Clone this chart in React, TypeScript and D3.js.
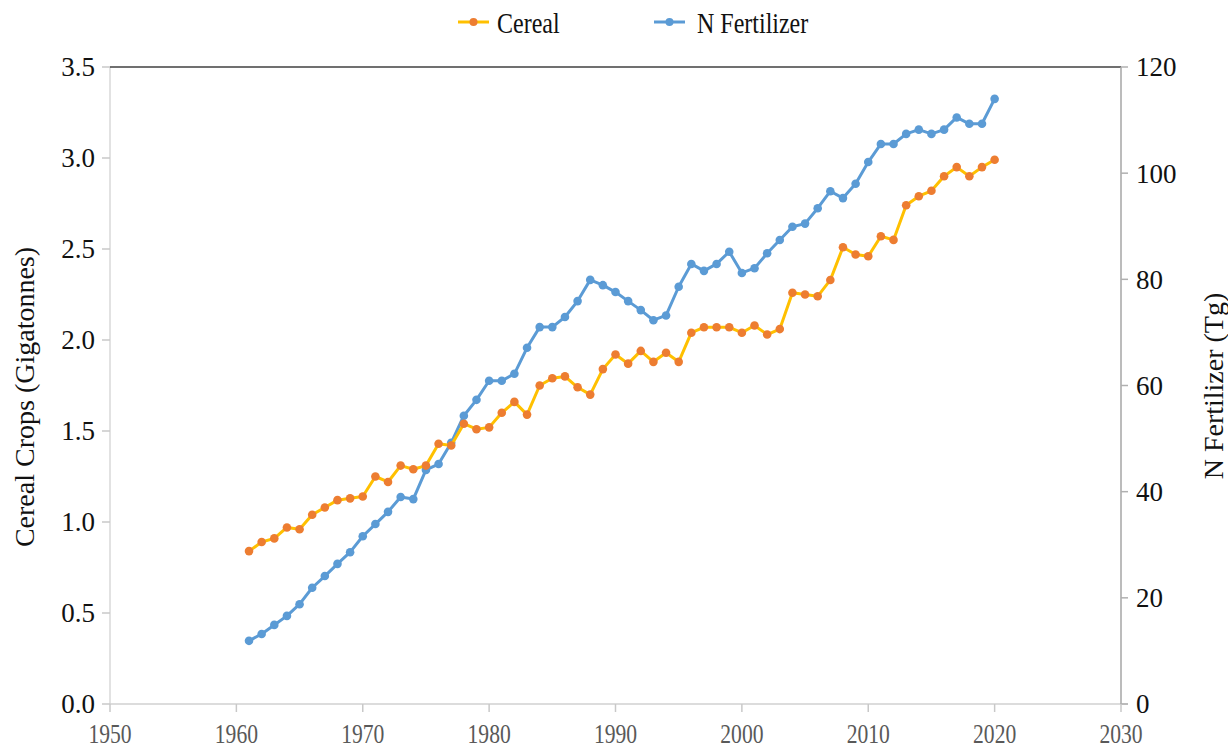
import React from 'react';
import * as d3 from 'd3';

const width = 1228;
const height = 751;
const margin = {top: 67, right: 107, bottom: 47, left: 110};
const lineYellow = '#ffc000';
const dotOrange = '#ed7d31';
const blue = '#5b9bd5';
const font = '"Liberation Serif", "Times New Roman", serif';

const years = d3.range(1961, 2021);

// cereal production, Gt
const cereal = [
  0.84, 0.89, 0.91, 0.97, 0.96, 1.04, 1.08, 1.12, 1.13, 1.14,
  1.25, 1.22, 1.31, 1.29, 1.31, 1.43, 1.42, 1.54, 1.51, 1.52,
  1.60, 1.66, 1.59, 1.75, 1.79, 1.80, 1.74, 1.70, 1.84, 1.92,
  1.87, 1.94, 1.88, 1.93, 1.88, 2.04, 2.07, 2.07, 2.07, 2.04,
  2.08, 2.03, 2.06, 2.26, 2.25, 2.24, 2.33, 2.51, 2.47, 2.46,
  2.57, 2.55, 2.74, 2.79, 2.82, 2.90, 2.95, 2.90, 2.95, 2.99,
];

// N fertilizer use, Tg
const fertilizer = [
  11.9, 13.2, 14.9, 16.6, 18.8, 21.9, 24.1, 26.4, 28.6, 31.6,
  33.9, 36.2, 39.0, 38.6, 44.1, 45.2, 49.2, 54.3, 57.3, 60.9,
  60.9, 62.2, 67.1, 71.0, 71.0, 72.9, 75.9, 79.9, 78.9, 77.6,
  75.9, 74.2, 72.3, 73.2, 78.6, 82.9, 81.6, 82.9, 85.2, 81.2,
  82.1, 84.9, 87.4, 89.9, 90.5, 93.4, 96.6, 95.3, 98.0, 102.1,
  105.5, 105.5, 107.4, 108.2, 107.4, 108.2, 110.5, 109.3, 109.3, 114.0,
];

const xTicks = [1950, 1960, 1970, 1980, 1990, 2000, 2010, 2020, 2030];
const leftTicks = [0, 0.5, 1.0, 1.5, 2.0, 2.5, 3.0, 3.5];
const rightTicks = [0, 20, 40, 60, 80, 100, 120];

const x = d3.scaleLinear().domain([1950, 2030]).range([margin.left, width - margin.right]);
const yLeft = d3.scaleLinear().domain([0, 3.5]).range([height - margin.bottom, margin.top]);
const yRight = d3.scaleLinear().domain([0, 120]).range([height - margin.bottom, margin.top]);

export default function App() {
  const cerealLine = d3.line<number>()
    .x((_, i) => x(years[i]))
    .y(d => yLeft(d))(cereal);
  const fertLine = d3.line<number>()
    .x((_, i) => x(years[i]))
    .y(d => yRight(d))(fertilizer);

  const x0 = x.range()[0];
  const x1 = x.range()[1];
  const yBottom = yLeft.range()[0];
  const yTop = yLeft.range()[1];

  return (
    <svg width={width} height={height} style={{position: 'absolute', left: 0, top: 0, background: '#fff'}}
      fontFamily={font}>
      {/* axes frame */}
      <line x1={x0} x2={x0} y1={yTop} y2={yBottom} stroke='#d9d9d9' strokeWidth='1.5' />
      <line x1={x0} x2={x1 + 7} y1={yBottom} y2={yBottom} stroke='#d0d0d0' strokeWidth='1.5' />
      <line x1={x0} x2={x1} y1={yTop} y2={yTop} stroke='#404040' strokeWidth='1.5' />
      <line x1={x1} x2={x1} y1={yTop} y2={yBottom} stroke='#a6a6a6' strokeWidth='1.5' />

      {/* left axis */}
      {leftTicks.map(t => (
        <g key={'l' + t} transform={`translate(${x0}, ${yLeft(t)})`}>
          <line x1={-8} x2={0} stroke='#c8c8c8' strokeWidth='1.5' />
          <text x={-15} dy='0.35em' textAnchor='end' fontSize='27' fill='#111'>{t.toFixed(1)}</text>
        </g>
      ))}

      {/* right axis */}
      {rightTicks.map(t => (
        <g key={'r' + t} transform={`translate(${x1}, ${yRight(t)})`}>
          <line x1={0} x2={7} stroke='#b0b0b0' strokeWidth='1.5' />
          <text x={15} dy='0.35em' textAnchor='start' fontSize='27' fill='#111'>{t}</text>
        </g>
      ))}

      {/* bottom axis */}
      {xTicks.map(t => (
        <g key={'x' + t} transform={`translate(${x(t)}, ${yBottom})`}>
          <line y1={0} y2={8} stroke='#c8c8c8' strokeWidth='1.5' />
          <text transform='translate(0, 30) scale(0.8, 1)' dy='0.35em' textAnchor='middle' fontSize='27' fill='#595959'>{t}</text>
        </g>
      ))}

      {/* axis titles */}
      <text transform='translate(24, 397) rotate(-90)' dy='0.35em' textAnchor='middle' fontSize='28' fill='#111'>
        Cereal Crops (Gigatonnes)
      </text>
      <text transform='translate(1213, 386) rotate(-90)' dy='0.35em' textAnchor='middle' fontSize='28' fill='#111'>
        N Fertilizer (Tg)
      </text>

      {/* series */}
      <path d={fertLine ?? ''} fill='none' stroke={blue} strokeWidth='3' strokeLinejoin='round' />
      {fertilizer.map((d, i) => (
        <circle key={'f' + i} cx={x(years[i])} cy={yRight(d)} r='4.3' fill={blue} />
      ))}
      <path d={cerealLine ?? ''} fill='none' stroke={lineYellow} strokeWidth='3' strokeLinejoin='round' />
      {cereal.map((d, i) => (
        <circle key={'c' + i} cx={x(years[i])} cy={yLeft(d)} r='4.3' fill={dotOrange} />
      ))}

      {/* legend */}
      <g transform='translate(458, 22)'>
        <line x1={0} x2={31} stroke={lineYellow} strokeWidth='3' />
        <circle cx={15.5} r='4' fill={dotOrange} />
        <text transform='translate(39, 0) scale(0.8, 1)' dy='0.35em' fontSize='30' fill='#111'>Cereal</text>
      </g>
      <g transform='translate(654, 22)'>
        <line x1={0} x2={31} stroke={blue} strokeWidth='3' />
        <circle cx={15.5} r='4' fill={blue} />
        <text transform='translate(43, 0) scale(0.8, 1)' dy='0.35em' fontSize='30' fill='#111'>N Fertilizer</text>
      </g>
    </svg>
  );
}
